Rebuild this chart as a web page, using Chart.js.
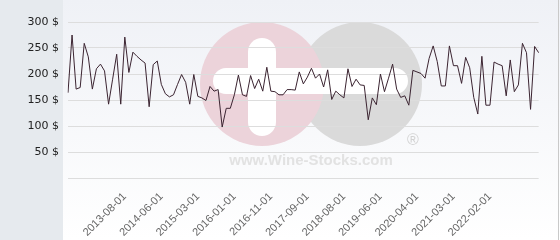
<!DOCTYPE html>
<html>
<head>
<meta charset="utf-8">
<script src="https://cdn.jsdelivr.net/npm/chart.js@4/dist/chart.umd.min.js"></script>
<style>
html,body{margin:0;padding:0;background:#fff;}
canvas{display:block;}
</style>
</head>
<body>
<canvas id="c" width="560" height="240"></canvas>
<script>
const dates = [
'2012-06-01','2012-07-01','2012-08-01','2012-09-01','2012-10-01','2012-11-01','2012-12-01','2013-01-01','2013-02-01','2013-03-01','2013-04-01','2013-05-01','2013-06-01','2013-07-01',
'2013-08-01','2013-09-01','2013-10-01','2013-11-01','2013-12-01','2014-02-01','2014-03-01','2014-04-01','2014-05-01',
'2014-06-01','2014-07-01','2014-08-01','2014-09-01','2014-10-01','2014-11-01','2014-12-01','2015-01-01','2015-02-01',
'2015-03-01','2015-04-01','2015-05-01','2015-06-01','2015-07-01','2015-09-01','2015-10-01','2015-11-01','2015-12-01',
'2016-01-01','2016-02-01','2016-03-01','2016-04-01','2016-05-01','2016-07-01','2016-08-01','2016-09-01','2016-10-01',
'2016-11-01','2016-12-01','2017-01-01','2017-02-01','2017-03-01','2017-05-01','2017-06-01','2017-07-01','2017-08-01',
'2017-09-01','2017-10-01','2017-11-01','2018-01-01','2018-02-01','2018-03-01','2018-05-01','2018-06-01','2018-07-01',
'2018-08-01','2018-09-01','2018-10-01','2018-11-01','2018-12-01','2019-02-01','2019-03-01','2019-04-01','2019-05-01',
'2019-06-01','2019-07-01','2019-08-01','2019-09-01','2019-10-01','2019-11-01','2020-01-01','2020-02-01','2020-03-01',
'2020-04-01','2020-05-01','2020-06-01','2020-07-01','2020-09-01','2020-10-01','2020-11-01','2021-01-01','2021-02-01',
'2021-03-01','2021-04-01','2021-05-01','2021-06-01','2021-08-01','2021-09-01','2021-10-01','2021-12-01','2022-01-01',
'2022-02-01','2022-03-01','2022-04-01','2022-05-01','2022-06-01','2022-07-01','2022-08-01','2022-09-01','2022-10-01','2022-11-01','2022-12-01','2023-01-01','2023-02-01'
];
const prices = [
164,275,171,174,259,233,171,210,219,206,142,190,238,142,
271,203,242,234,227,221,137,218,225,
180,162,156,160,180,199,184,142,199,
157,154,149,176,167,170,98,134,134,
160,198,160,157,197,172,190,167,213,
167,166,160,160,170,170,169,204,181,
194,211,192,200,175,208,151,167,160,
154,210,176,190,179,178,112,154,141,
200,166,192,219,171,155,158,140,207,
204,201,192,230,254,224,177,177,254,
216,216,182,232,212,155,123,234,140,
140,223,219,216,158,227,166,179,259,241,132,253,241
];
const shownTicks = ['2013-08-01','2014-06-01','2015-03-01','2016-01-01','2016-11-01','2017-09-01','2018-08-01','2019-06-01','2020-04-01','2021-03-01','2022-02-01'];
const yTicks = [50,100,150,200,250,300];

const bgPlugin = {
  id: 'bg',
  beforeDraw(chart) {
    const ctx = chart.ctx;
    const W = chart.width, H = chart.height;
    ctx.save();
    const g = ctx.createLinearGradient(0, 0, 0, H);
    g.addColorStop(0, '#eff1f6');
    g.addColorStop(1, '#ffffff');
    ctx.fillStyle = g;
    ctx.fillRect(0, 0, W, H);
    ctx.fillStyle = '#e6eaee';
    ctx.fillRect(0, 0, 63, H);
    ctx.strokeStyle = '#c9c9c9';
    ctx.lineWidth = 1;
    ctx.beginPath(); ctx.moveTo(558.5, 0); ctx.lineTo(558.5, H); ctx.stroke();
    // watermark
    ctx.fillStyle = '#dadada';
    ctx.beginPath(); ctx.arc(360, 84, 62, 0, Math.PI * 2); ctx.fill();
    ctx.fillStyle = '#ecd3da';
    ctx.beginPath(); ctx.arc(262, 84, 62, 0, Math.PI * 2); ctx.fill();
    ctx.fillStyle = '#ffffff';
    function rr(x, y, w, h, r) {
      ctx.beginPath();
      ctx.moveTo(x + r, y);
      ctx.arcTo(x + w, y, x + w, y + h, r);
      ctx.arcTo(x + w, y + h, x, y + h, r);
      ctx.arcTo(x, y + h, x, y, r);
      ctx.arcTo(x, y, x + w, y, r);
      ctx.closePath();
      ctx.fill();
    }
    rr(248, 38, 28, 98, 14);
    rr(213, 68, 195, 26, 13);
    ctx.fillStyle = '#e2e2e2';
    ctx.font = 'bold 15px "Liberation Sans", Arial, sans-serif';
    ctx.textAlign = 'center';
    ctx.textBaseline = 'alphabetic';
    ctx.fillText('www.Wine-Stocks.com', 311, 165);
    ctx.fillStyle = '#d2d2d2';
    ctx.font = '16px "Liberation Sans", Arial, sans-serif';
    ctx.fillText('®', 413, 145);
    ctx.restore();
  }
};

new Chart(document.getElementById('c'), {
  type: 'line',
  data: {
    labels: dates,
    datasets: [{
      data: prices,
      borderColor: '#3b2431',
      borderWidth: 1,
      pointRadius: 0,
      tension: 0,
      fill: false
    }]
  },
  options: {
    responsive: false,
    animation: false,
    layout: { padding: { top: 22, right: 5, bottom: 0, left: 0 } },
    plugins: { legend: { display: false }, tooltip: { enabled: false } },
    scales: {
      x: {
        offset: false,
        grid: { display: false, drawTicks: false },
        border: { display: false },
        afterFit(s) { s.height = 62; },
        ticks: {
          autoSkip: false,
          minRotation: 45,
          maxRotation: 45,
          padding: 12,
          color: '#666',
          font: { family: '"Liberation Sans", Arial, sans-serif', size: 11 },
          callback(v, i) { const l = dates[i]; return shownTicks.includes(l) ? l : ''; }
        }
      },
      y: {
        min: 0, max: 300,
        grid: { color: '#dddddd', drawTicks: false, lineWidth: 1 },
        border: { display: false },
        afterFit(s) { s.width = 68; },
        afterBuildTicks(s) { s.ticks = [0].concat(yTicks).map(v => ({ value: v })); },
        ticks: {
          padding: 9,
          color: '#222',
          font: { family: '"DejaVu Sans", sans-serif', size: 11 },
          callback(v) { return v === 0 ? '' : v + ' $'; }
        }
      }
    }
  },
  plugins: [bgPlugin]
});
</script>
</body>
</html>
